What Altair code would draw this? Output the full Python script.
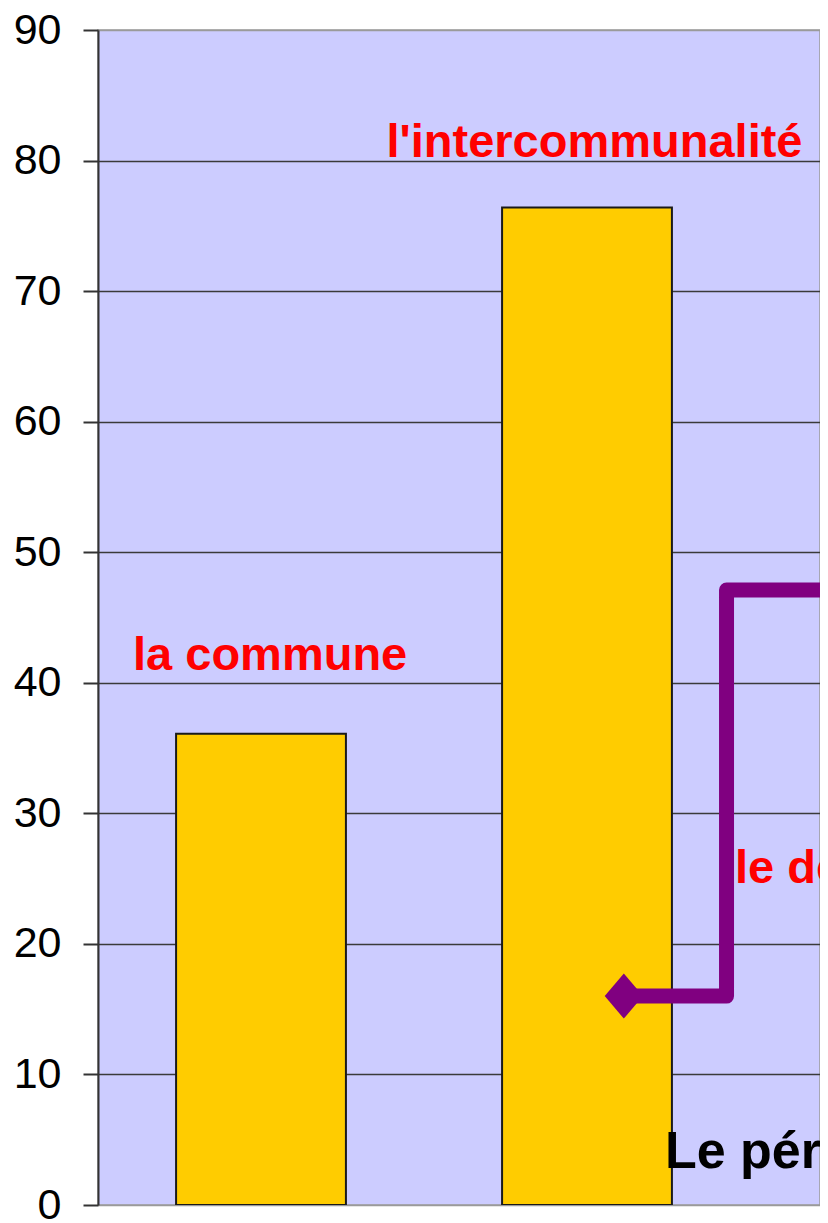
import altair as alt
import pandas as pd

# ---- data ----
categories = ["la commune", "l'intercommunalité", "le département"]
bar_categories = ["la commune", "l'intercommunalité"]
bar_values = [36.1, 76.4]

# purple connector (x in category units, y in axis units)
line_x = [1.613, 1.928, 1.928, 3.0]
line_y = [16.0, 16.0, 47.1, 47.1]

# red annotations
red_texts = ["la commune", "l'intercommunalité"]
red_x = [0.528, 1.523]
red_y = [41.0, 80.3]

side_texts = ["le département"]
side_x = [1.954]
side_y = [24.7]

black_texts = ["Le périmètre"]
black_x = [1.739]
black_y = [2.8]

y_ticks = list(range(0, 100, 10))

# ---- tables ----
bars = pd.DataFrame({"cat": bar_categories, "val": bar_values})
line = pd.DataFrame({"x": line_x, "y": line_y, "o": list(range(len(line_x)))})
start = line.iloc[[0]]
red = pd.DataFrame({"t": red_texts, "x": red_x, "y": red_y})
side = pd.DataFrame({"t": side_texts, "x": side_x, "y": side_y})
black = pd.DataFrame({"t": black_texts, "x": black_x, "y": black_y})

FULL = 978  # 3 category steps of 326 px; only the left part is visible
W, H = 722, 1175

yscale = alt.Scale(domain=[0, 90], nice=False, zero=True)
yaxis = alt.Axis(values=y_ticks, labelFontSize=43, labelFont="Liberation Sans",
                 labelColor="black", labelPadding=22, tickSize=15,
                 tickColor="#333333", tickWidth=2, domainColor="#333333",
                 domainWidth=2,
                 gridColor={"condition": {"test": "datum.value == 0 || datum.value == 90",
                                          "value": "#9a9a9a"},
                            "value": "#3a3a3a"},
                 gridWidth=1.7,
                 minExtent=90, maxExtent=90, title=None, grid=True)

qx = alt.Scale(domain=[0, 3], range=[0, FULL], nice=False, zero=False)

bar_layer = alt.Chart(bars).mark_bar(
    color="#FFCC00", stroke="#1a1a1a", strokeWidth=2, clip=True
).encode(
    x=alt.X("cat:N", axis=None, sort=categories,
            scale=alt.Scale(domain=categories, range=[0, FULL],
                            paddingInner=0.479, paddingOuter=0.2395)),
    y=alt.Y("val:Q", scale=yscale, axis=yaxis, title=None),
)

line_layer = alt.Chart(line).mark_line(
    color="#800080", strokeWidth=15, strokeJoin="round", clip=True
).encode(
    x=alt.X("x:Q", scale=qx, axis=None),
    y=alt.Y("y:Q", scale=yscale, axis=yaxis, title=None),
    order="o:Q",
)

diamond = alt.Chart(start).mark_point(
    shape="M-0.85,0L0,-1L0.85,0L0,1Z", filled=True, size=2025,
    color="#800080", opacity=1, clip=True
).encode(
    x=alt.X("x:Q", scale=qx, axis=None),
    y=alt.Y("y:Q", scale=yscale, axis=yaxis, title=None),
)

def text_layer(df, align, size, color):
    return alt.Chart(df).mark_text(
        align=align, baseline="alphabetic", font="Liberation Sans",
        fontWeight="bold", fontSize=size, color=color, clip=True
    ).encode(
        x=alt.X("x:Q", scale=qx, axis=None),
        y=alt.Y("y:Q", scale=yscale, axis=yaxis, title=None),
        text="t:N",
    )

chart = alt.layer(
    bar_layer,
    line_layer,
    diamond,
    text_layer(red, "center", 47, "#FF0000"),
    text_layer(side, "left", 47, "#FF0000"),
    text_layer(black, "left", 52, "#000000"),
).resolve_scale(x="independent").properties(
    width=W, height=H,
    autosize=alt.AutoSizeParams(type="none"),
    padding={"left": 90, "top": 22, "right": 0, "bottom": 18},
).configure_view(
    fill="#CCCCFF", stroke="#9a9a9a", strokeWidth=1.5
)

chart.save("out.html", embed_options={"renderer": "svg", "actions": False})
